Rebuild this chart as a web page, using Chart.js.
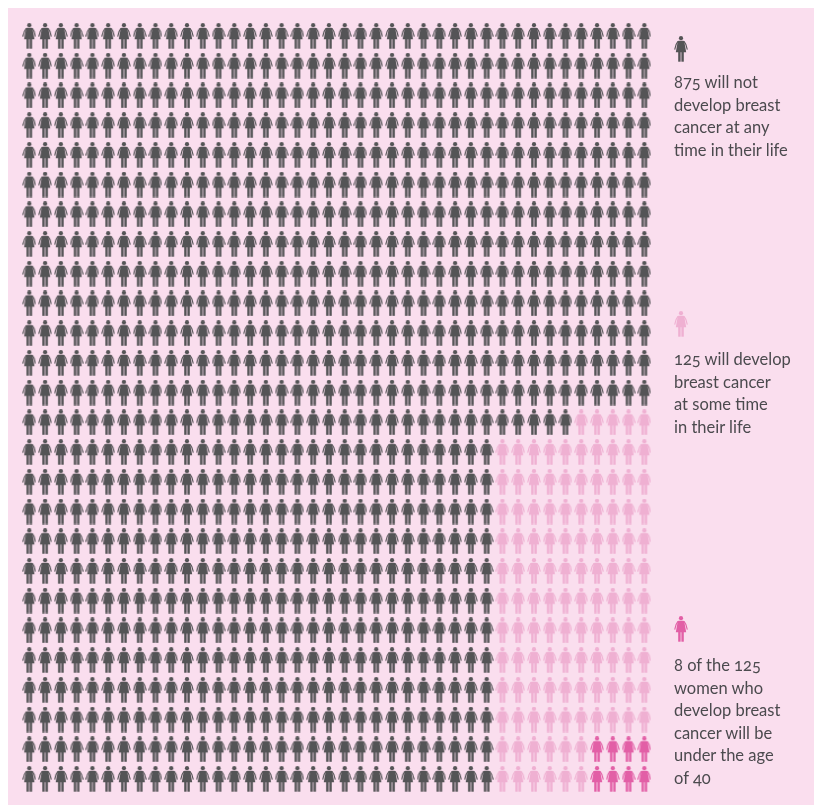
<!DOCTYPE html>
<html><head><meta charset="utf-8">
<script src="https://cdn.jsdelivr.net/npm/chart.js@4"></script>
<style>
html,body{margin:0;padding:0;background:#fff;overflow:hidden}
#page{position:absolute;left:8px;top:8px;width:806px;height:797px;background:#fadeee}
#wrap{position:absolute;left:0;top:0;width:814px;height:805px}
.t{position:absolute;left:674px;font:16.5px/22.6px Lato,sans-serif;color:#4b4a4e;font-feature-settings:"onum";white-space:pre}
.i{position:absolute;left:674px}
</style></head><body>
<div id="page"></div>
<div id="wrap"><canvas id="c" width="814" height="805"></canvas></div>
<canvas class="i" id="i0" style="top:36px"></canvas>
<canvas class="i" id="i1" style="top:311px"></canvas>
<canvas class="i" id="i2" style="top:616px"></canvas>
<div class="t" style="top:71px">875 will not
develop breast
cancer at any
time in their life</div>
<div class="t" style="top:348px">125 will develop
breast cancer
at some time
in their life</div>
<div class="t" style="top:654px">8 of the 125
women who
develop breast
cancer will be
under the age
of 40</div>
<script>
const seriesLabels = ['Will not develop breast cancer','Will develop at some time','Will develop under the age of 40'];
const seriesColors = ['#545456','#efb0d2','#e25fa6'];
// figures per row, top row first: dark, then light pink, then bright pink
const darkPerRow  = [40,40,40,40,40,40,40,40,40,40,40,40,40,35,30,30,30,30,30,30,30,30,30,30,30,30];
const lightPerRow = [0,0,0,0,0,0,0,0,0,0,0,0,0,5,10,10,10,10,10,10,10,10,10,10,6,6];
const brightPerRow= [0,0,0,0,0,0,0,0,0,0,0,0,0,0,0,0,0,0,0,0,0,0,0,0,4,4];

function figure(color){
  const c=document.createElement('canvas');c.width=14;c.height=26;
  const g=c.getContext('2d');g.fillStyle=color;g.strokeStyle=color;
  const m=7;
  g.beginPath();g.arc(m,2.2,2.1,0,Math.PI*2);g.fill();
  // dress
  g.beginPath();g.moveTo(m-2.4,4.8);g.lineTo(m+2.4,4.8);g.quadraticCurveTo(m+3.3,5,m+3.5,6.8);
  g.lineTo(m+5.2,16.2);g.lineTo(m-5.2,16.2);g.lineTo(m-3.5,6.8);g.quadraticCurveTo(m-3.3,5,m-2.4,4.8);g.fill();
  // arms
  g.lineWidth=1.1;
  g.beginPath();g.moveTo(m-3.0,5.2);g.lineTo(m-4.9,8.5);g.lineTo(m-6.3,13.6);g.stroke();
  g.beginPath();g.moveTo(m+3.0,5.2);g.lineTo(m+4.9,8.5);g.lineTo(m+6.3,13.6);g.stroke();
  // legs
  g.fillRect(m-2.8,16,2.4,9.7);g.fillRect(m+0.4,16,2.4,9.7);
  return c;
}
const figs=seriesColors.map(figure);
[0,1,2].forEach(k=>{const e=document.getElementById('i'+k);e.width=14;e.height=26;e.getContext('2d').drawImage(figs[k],0,0);});

function pts(k){
  const out=[];
  darkPerRow.forEach((d,r)=>{
    const start=k===0?0:k===1?d:d+lightPerRow[r];
    const n=[d,lightPerRow[r],brightPerRow[r]][k];
    for(let i=0;i<n;i++)out.push({x:start+i,y:r});
  });
  return out;
}
const W=814,H=805,x0=29.3,dx=15.77,y0=36,dy=29.72;
new Chart(document.getElementById('c'),{
  type:'scatter',
  data:{datasets:seriesLabels.map((l,k)=>({label:l,data:pts(k),pointStyle:figs[k],pointRadius:7,pointHoverRadius:7,backgroundColor:seriesColors[k]}))},
  options:{
    responsive:false,animation:false,
    layout:{padding:0,autoPadding:false},
    plugins:{legend:{display:false},tooltip:{enabled:false}},
    events:[],
    scales:{
      x:{type:'linear',display:false,min:-x0/dx,max:(W-x0)/dx},
      y:{type:'linear',display:false,reverse:true,min:-y0/dy,max:(H-y0)/dy}
    }
  }
});
</script>
</body></html>
